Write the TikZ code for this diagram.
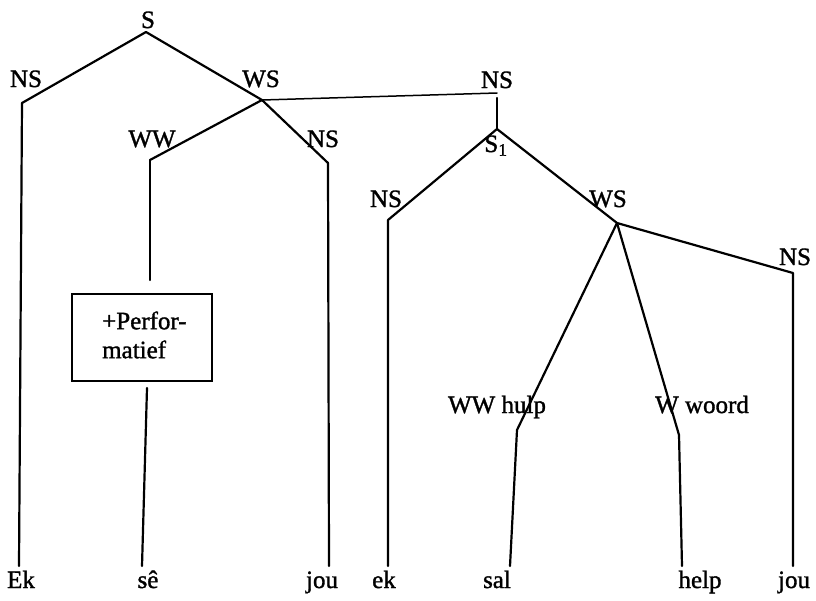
\documentclass[tikz,border=0pt]{standalone}
\usepackage{fontspec}
\newfontfamily\treefont{Liberation Serif}[FakeBold=1.3]
\begin{document}
\begin{tikzpicture}[x=1pt,y=-1pt,
  lab/.style={inner sep=0pt, anchor=base, font=\treefont\fontsize{25}{30}\selectfont},
  edge/.style={line width=2.2pt, line cap=round, line join=round},
  thinedge/.style={line width=1.5pt, line cap=round},
  featbox/.style={draw, line width=1.9pt, inner sep=0pt, minimum width=140pt, minimum height=87pt}]
\useasboundingbox (0,0) rectangle (816,600);

% category labels (placed on their baselines)
\node[lab] (lS)   at (148,28)  {S};
\node[lab] (lNS1) at (26,87)   {NS};
\node[lab] (lWS1) at (261,87)  {WS};
\node[lab] (lNS2) at (497,88)  {NS};
\node[lab] (lWW)  at (152,147) {WW};
\node[lab] (lNS3) at (323,147) {NS};
\node[lab] (lS1)  at (496,152) {S\textsubscript{1}};
\node[lab] (lNS4) at (386,207) {NS};
\node[lab] (lWS2) at (608,207) {WS};
\node[lab] (lNS5) at (795,265) {NS};
\node[lab] (lWWh) at (497,413) {WW hulp};
\node[lab] (lWwd) at (702,413) {W woord};

% branching points
\coordinate (sTop) at (146,32);
\coordinate (nsL)  at (22,103);
\coordinate (ws)   at (262,100);
\coordinate (ww)   at (150,160);
\coordinate (nsJ)  at (328,163);
\coordinate (hEnd) at (497,93);
\coordinate (s1Up) at (497,98);
\coordinate (s1)   at (497,129);
\coordinate (nsE)  at (388,220);
\coordinate (ws2)  at (617,223);
\coordinate (nsR)  at (793,273);
\coordinate (hulp) at (517,430);
\coordinate (wrd)  at (679,435);
\coordinate (wwA)  at (150,280);
\coordinate (wwB)  at (147,388);

% feature box
\node[featbox] (box) at (142,337.5) {};
\node[lab, align=left, anchor=west] (ftxt) at (102,335)
  {+Perfor-\\[-1pt]matief};

% words
\node[lab] (wEk)   at (21,588)  {Ek};
\node[lab] (wSe)   at (148,588) {sê};
\node[lab] (wJou1) at (322,588) {jou};
\node[lab] (wek)   at (384,588) {ek};
\node[lab] (wSal)  at (497,588) {sal};
\node[lab] (wHelp) at (700,588) {help};
\node[lab] (wJou2) at (794,588) {jou};

\coordinate (bEk)   at (19,566);
\coordinate (bSe)   at (142,566);
\coordinate (bJou1) at (329,566);
\coordinate (bek)   at (388,566);
\coordinate (bSal)  at (510,566);
\coordinate (bHelp) at (682,566);
\coordinate (bJou2) at (793,566);

% tree branches
\draw[edge] (nsL) -- (sTop) -- (ws);
\draw[edge] (nsL) -- (bEk);
\draw[edge] (ww) -- (ws) -- (nsJ) -- (bJou1);
\draw[edge] (ww) -- (wwA);
\draw[edge] (wwB) -- (bSe);
\draw[thinedge] (ws) -- (hEnd);
\draw[edge] (s1Up) -- (s1);
\draw[edge] (bek) -- (nsE) -- (s1) -- (ws2) -- (nsR) -- (bJou2);
\draw[edge] (ws2) -- (hulp) -- (bSal);
\draw[edge] (ws2) -- (wrd) -- (bHelp);
\end{tikzpicture}
\end{document}
